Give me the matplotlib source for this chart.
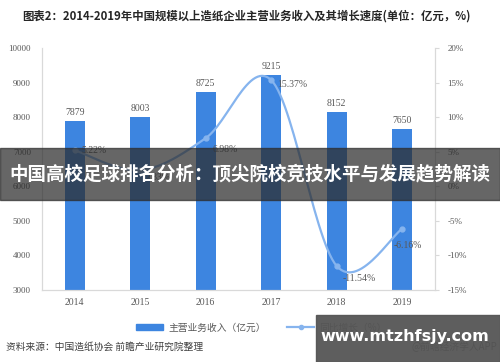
import numpy as np
import matplotlib
matplotlib.use("Agg")
import matplotlib.pyplot as plt
from matplotlib.lines import Line2D
from matplotlib.patches import Rectangle

plt.rcParams['font.family'] = ['Noto Sans CJK SC', 'DejaVu Sans']

# data
years = ['2014', '2015', '2016', '2017', '2018', '2019']
revenue = [7879, 8003, 8725, 9215, 8152, 7650]
growth = [5.22, 2.33, 6.98, 15.37, -11.54, -6.16]

bar_color = '#3D85E0'
line_color = '#86B4EE'
text_gray = '#595959'
serif = ['Liberation Serif', 'DejaVu Serif']


def catmull_rom(xs, ys, n=30):
    # smooth curve through the points (Excel-style smoothed line)
    pts = np.column_stack([xs, ys]).astype(float)
    pts = np.vstack([pts[0], pts, pts[-1]])
    out = []
    for i in range(1, len(pts) - 2):
        p0, p1, p2, p3 = pts[i - 1], pts[i], pts[i + 1], pts[i + 2]
        t = np.linspace(0, 1, n)[:, None]
        seg = 0.5 * ((2 * p1) + (-p0 + p2) * t
                     + (2 * p0 - 5 * p1 + 4 * p2 - p3) * t ** 2
                     + (-p0 + 3 * p1 - 3 * p2 + p3) * t ** 3)
        out.append(seg)
    out = np.vstack(out)
    return out[:, 0], out[:, 1]


fig = plt.figure(figsize=(5, 3.62), dpi=100)
ax = fig.add_axes([0.084, 0.199, 0.786, 0.668])
ax2 = ax.twinx()

x = np.arange(len(years))
ax.bar(x, revenue, width=0.31, color=bar_color, zorder=2)
for xi, v in zip(x, revenue):
    ax.text(xi, v + 120, str(v), ha='center', va='bottom', fontsize=7,
            color=text_gray, family=serif)

ax.set_xlim(-0.5, len(years) - 0.5)
ax.set_ylim(3000, 10000)
ax.set_yticks(range(3000, 10001, 1000))
ax.set_xticks(x)
ax.set_xticklabels(years, family=serif, fontsize=7, color=text_gray)
for lab in ax.get_yticklabels():
    lab.set_family(serif)
    lab.set_fontsize(6.5)
    lab.set_color(text_gray)
ax.tick_params(axis='both', length=0, pad=6)
ax.tick_params(axis='y', pad=8)

sx, sy = catmull_rom(x, growth)
ax2.plot(sx, sy, color=line_color, lw=1.6, zorder=3)
ax2.plot(x, growth, 'o', color=line_color, ms=3.5, zorder=4)
ax2.set_ylim(-15, 20)
ax2.set_yticks(range(-15, 21, 5))
ax2.set_yticklabels([f'{v}%' for v in range(-15, 21, 5)], family=serif,
                    fontsize=6.5, color=text_gray)
ax2.tick_params(axis='y', length=3, color='#d9d9d9', pad=6)

offsets = [(5, 0), (4, -5), (5, -8), (4, -3), (4, -9), (-6, -12)]
for xi, g, (dx, dy) in zip(x, growth, offsets):
    ax2.annotate(f'{g:.2f}%', (xi, g), xytext=(dx, dy),
                 textcoords='offset points', fontsize=7, color=text_gray,
                 family=serif, ha='left', va='center')

for a in (ax, ax2):
    a.spines['top'].set_visible(False)
    for s in ('left', 'right', 'bottom'):
        a.spines[s].set_color('#d9d9d9')
        a.spines[s].set_linewidth(0.8)

fig.text(0.044, 0.955, '图表2：2014-2019年中国规模以上造纸企业主营业务收入及其增长速度(单位：亿元，%)',
         fontsize=8.2, fontweight='bold', color='#262626', va='center')

handles = [Rectangle((0, 0), 1, 1, color=bar_color),
           Line2D([0], [0], color=line_color, lw=1.6, marker='o', ms=3)]
fig.legend(handles, ['主营业务收入（亿元）', '同比增长（%）'], loc='center left',
           bbox_to_anchor=(0.255, 0.095), ncol=2, frameon=False, fontsize=7,
           labelcolor=text_gray, handlelength=2.8, handleheight=0.5,
           handletextpad=0.5, columnspacing=2.2)

fig.text(0.012, 0.042, '资料来源：中国造纸协会 前瞻产业研究院整理', fontsize=7,
         color='#404040', va='center')
fig.text(0.995, 0.042, '@前瞻经济学人APP', fontsize=7, color='#404040',
         va='center', ha='right')

# overlay banner and site box
fig.patches.append(Rectangle((0, 0.448), 1, 0.143, transform=fig.transFigure,
                             color='#2b2b2b', alpha=0.72, zorder=10))
fig.text(0.5, 0.519, '中国高校足球排名分析：顶尖院校竞技水平与发展趋势解读',
         fontsize=13.3, fontweight='bold', color='white', ha='center',
         va='center', zorder=11)
fig.patches.append(Rectangle((0.632, 0), 0.368, 0.13, transform=fig.transFigure,
                             color='#555555', alpha=0.95, zorder=10))
fig.text(0.81, 0.071, 'www.mtzhfsjy.com', fontsize=11.5, fontweight='bold',
         color='white', ha='center', va='center', zorder=11,
         family=['DejaVu Sans'])

fig.savefig('out.png', dpi=100)
